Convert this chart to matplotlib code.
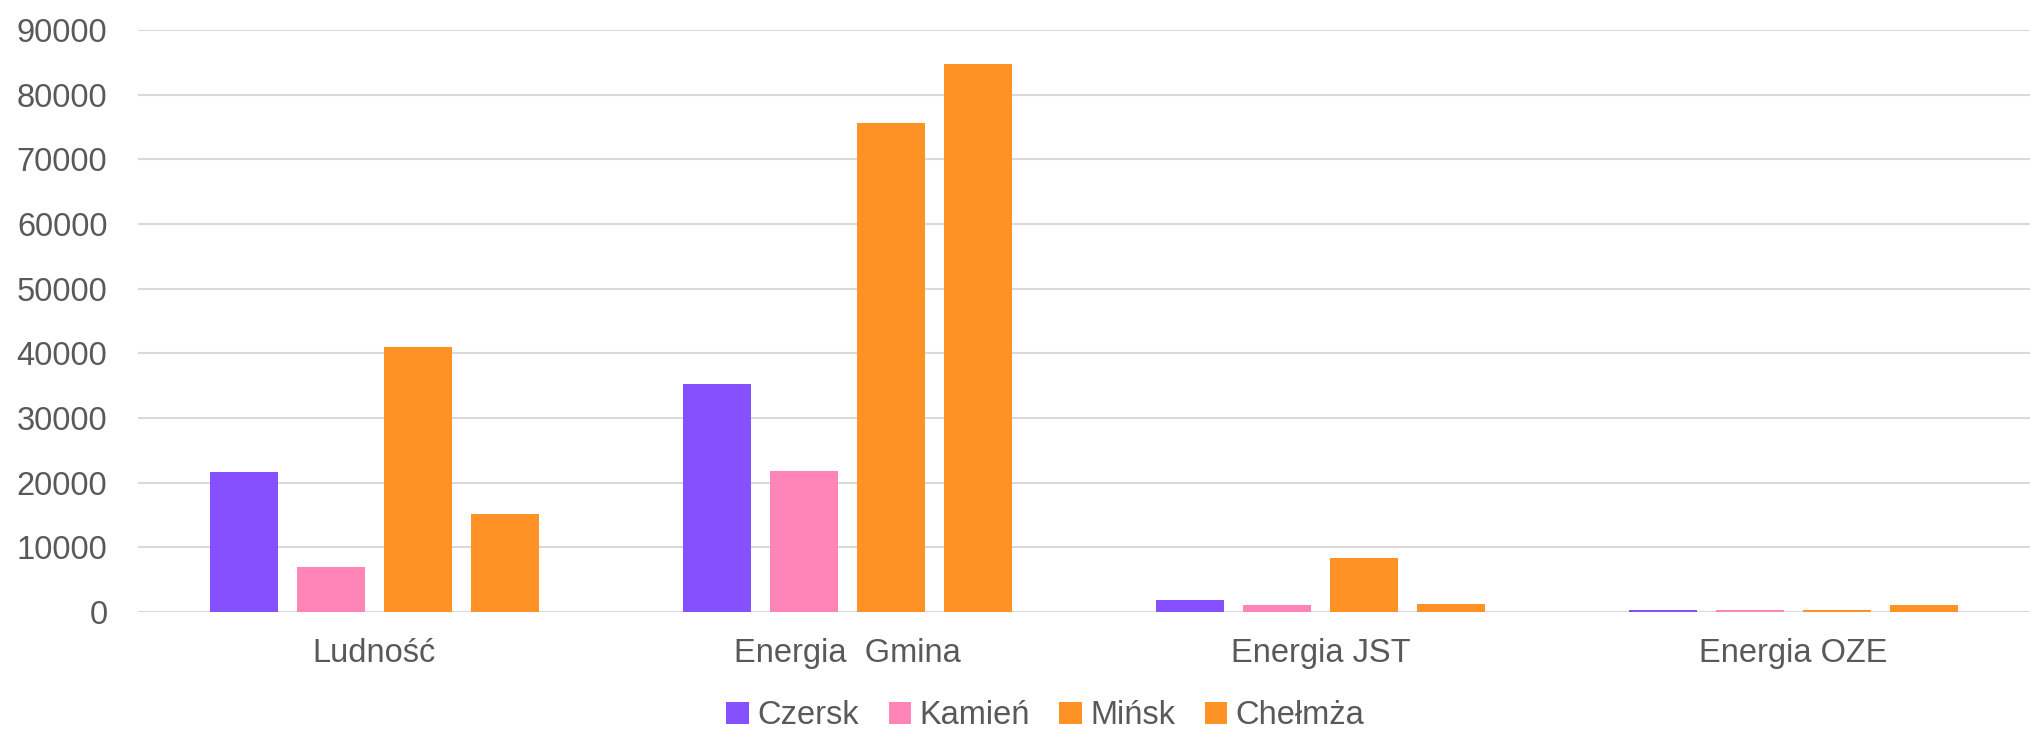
import matplotlib.pyplot as plt
import numpy as np

# data
categories = ["Ludność", "Energia  Gmina", "Energia JST", "Energia OZE"]
series_names = ["Czersk", "Kamień", "Mińsk", "Chełmża"]
czersk = [21600, 35300, 1800, 250]
kamien = [7000, 21800, 1050, 350]
minsk = [41000, 75600, 8300, 300]
chelmza = [15200, 84800, 1200, 1150]
colors = ["#8650FF", "#FF85B8", "#FF9224", "#FF9224"]

values = [czersk, kamien, minsk, chelmza]

text_color = "#595959"
plt.rcParams['font.family'] = ['Liberation Sans', 'DejaVu Sans']

fig = plt.figure(figsize=(20.3, 7.32), dpi=100)
ax = fig.add_axes([0.068, 0.164, 0.932, 0.795])

x = np.arange(len(categories))
width = 0.145
step = 0.184
for i, (name, vals) in enumerate(zip(series_names, values)):
    ax.bar(x + (i - 1.5) * step, vals, width, color=colors[i], label=name,
           linewidth=0, zorder=3)

ax.set_xlim(-0.5, len(categories) - 0.5)
ax.set_ylim(0, 90000)
ax.set_yticks(np.arange(0, 90001, 10000))
ax.set_xticks(x)
ax.set_xticklabels(categories)
ax.yaxis.grid(True, color="#D9D9D9", linewidth=1.5, zorder=0)
ax.set_axisbelow(True)
for s in ax.spines.values():
    s.set_visible(False)
ax.tick_params(axis="both", length=0, labelsize=23.5, colors=text_color)
ax.tick_params(axis="y", pad=22)
ax.tick_params(axis="x", pad=19)

fig.legend(loc="center", bbox_to_anchor=(0.515, 0.022), ncol=4, frameon=False,
           handlelength=0.7, handleheight=0.7, handletextpad=0.25,
           columnspacing=0.9, prop={'size': 23.5},
           labelcolor=text_color)

fig.savefig("out.png", dpi=100)
